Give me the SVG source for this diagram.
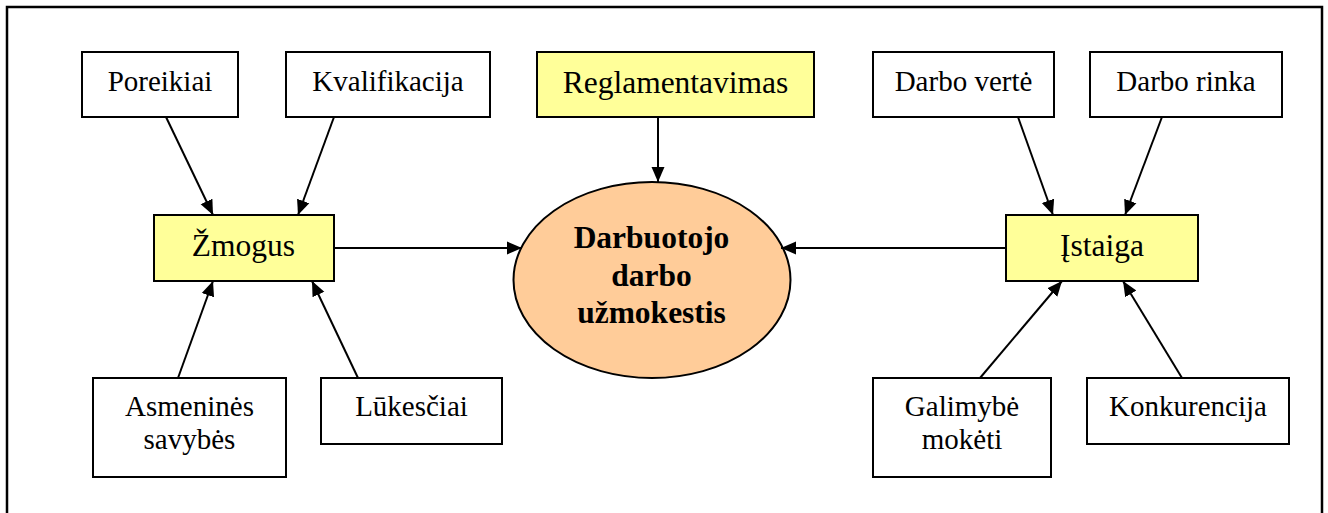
<svg xmlns="http://www.w3.org/2000/svg" width="1328" height="513" viewBox="0 0 1328 513">
<style>
.box{fill:#fff;stroke:#000;stroke-width:2}
.hl{fill:#FFFF99;stroke:#000;stroke-width:2}
.ell{fill:#FFCC99;stroke:#000;stroke-width:2}
.t{font-family:"Liberation Serif","Times New Roman",serif;font-size:29px;fill:#000;text-anchor:middle}
.y{font-size:31.5px}
.b{font-family:"Liberation Serif","Times New Roman",serif;font-size:31.5px;font-weight:bold;fill:#000;text-anchor:middle}
.c line{stroke:#000;stroke-width:2;marker-end:url(#ah)}
</style>
<defs>
<marker id="ah" markerUnits="userSpaceOnUse" markerWidth="15" markerHeight="15" viewBox="0 0 15 15" refX="15" refY="7.5" orient="auto">
<path d="M0,1 L15,7.5 L0,14 Z" fill="#000"/>
</marker>
</defs>
<rect x="7" y="7" width="1315" height="530" fill="none" stroke="#000" stroke-width="2.5"/>
<g id="poreikiai"><rect class="box" x="82" y="52" width="156" height="65"/><text class="t" x="160" y="91">Poreikiai</text></g>
<g id="kvalifikacija"><rect class="box" x="286" y="52" width="204" height="65"/><text class="t" x="388" y="91">Kvalifikacija</text></g>
<g id="reglamentavimas"><rect class="hl" x="537" y="52" width="277" height="65"/><text class="t y" x="675.5" y="93">Reglamentavimas</text></g>
<g id="darbo-verte"><rect class="box" x="873" y="52" width="181" height="65"/><text class="t" x="963.5" y="91">Darbo vertė</text></g>
<g id="darbo-rinka"><rect class="box" x="1090" y="52" width="192" height="65"/><text class="t" x="1186" y="91">Darbo rinka</text></g>
<g id="zmogus"><rect class="hl" x="154" y="215" width="180" height="66"/><text class="t y" x="243.5" y="255.5">Žmogus</text></g>
<g id="istaiga"><rect class="hl" x="1006" y="215" width="192" height="66"/><text class="t y" x="1102" y="255.5">Įstaiga</text></g>
<g id="uzmokestis"><ellipse class="ell" cx="652" cy="280" rx="138.5" ry="98"/>
<text class="b" x="651.5" y="248">Darbuotojo</text><text class="b" x="651.5" y="286">darbo</text><text class="b" x="651.5" y="323">užmokestis</text></g>
<g id="asmenines"><rect class="box" x="93" y="378" width="193" height="99"/><text class="t" x="189.5" y="416">Asmeninės</text><text class="t" x="189.5" y="449">savybės</text></g>
<g id="lukesciai"><rect class="box" x="321" y="378" width="181" height="66"/><text class="t" x="411.5" y="416">Lūkesčiai</text></g>
<g id="galimybe"><rect class="box" x="873" y="378" width="178" height="99"/><text class="t" x="962" y="416">Galimybė</text><text class="t" x="962" y="449">mokėti</text></g>
<g id="konkurencija"><rect class="box" x="1087" y="378" width="202" height="66"/><text class="t" x="1188" y="416">Konkurencija</text></g>
<g id="connectors" class="c">
<line x1="166" y1="117" x2="213" y2="215"/>
<line x1="334" y1="117" x2="298" y2="215"/>
<line x1="658" y1="117" x2="658" y2="182"/>
<line x1="1018" y1="117" x2="1053" y2="215"/>
<line x1="1162" y1="117" x2="1125" y2="215"/>
<line x1="334" y1="248" x2="522" y2="248"/>
<line x1="1006" y1="248" x2="781" y2="248"/>
<line x1="178" y1="378" x2="213" y2="281"/>
<line x1="358" y1="378" x2="312" y2="281"/>
<line x1="980" y1="378" x2="1062" y2="281"/>
<line x1="1182" y1="378" x2="1123" y2="281"/>
</g>
</svg>
